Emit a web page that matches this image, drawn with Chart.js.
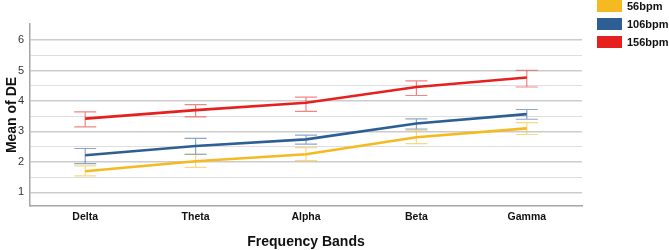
<!DOCTYPE html>
<html>
<head>
<meta charset="utf-8">
<script src="https://cdn.jsdelivr.net/npm/chart.js@4"></script>
<style>
  html, body { margin: 0; padding: 0; background: #fff; }
  #wrap { position: relative; width: 669px; height: 250px; }
</style>
</head>
<body>
<div id="wrap"><canvas id="chart1"></canvas></div>
<script>
const bands = ["Delta", "Theta", "Alpha", "Beta", "Gamma"];
const seriesNames = ["56bpm", "106bpm", "156bpm"];
const seriesColors = ["#F5B921", "#2D5F95", "#E6201E"];
const bpm56 = [1.69, 2.02, 2.25, 2.81, 3.10];
const bpm56Low = [1.54, 1.82, 2.04, 2.60, 2.90];
const bpm56High = [1.87, 2.25, 2.47, 3.04, 3.29];
const bpm106 = [2.22, 2.52, 2.74, 3.26, 3.57];
const bpm106Low = [1.94, 2.25, 2.58, 3.08, 3.40];
const bpm106High = [2.44, 2.77, 2.88, 3.41, 3.72];
const bpm156 = [3.42, 3.70, 3.94, 4.46, 4.77];
const bpm156Low = [3.15, 3.48, 3.66, 4.18, 4.46];
const bpm156High = [3.64, 3.88, 4.13, 4.66, 5.01];
const yTicks = [1, 1.5, 2, 2.5, 3, 3.5, 4, 4.5, 5, 5.5, 6];

const means = [bpm56, bpm106, bpm156];
const lows = [bpm56Low, bpm106Low, bpm156Low];
const highs = [bpm56High, bpm106High, bpm156High];

const FONT = "Arial, 'Liberation Sans', sans-serif";

function fade(hex, a) {
    const n = parseInt(hex.slice(1), 16);
    return "rgba(" + (n >> 16) + "," + ((n >> 8) & 255) + "," + (n & 255) + "," + a + ")";
}

// error bars, drawn under the lines
const errorBars = {
    id: "errorBars",
    beforeDatasetsDraw(chart) {
        const ctx = chart.ctx;
        const x = chart.scales.x, y = chart.scales.y;
        ctx.save();
        ctx.lineWidth = 1.2;
        means.forEach((m, s) => {
            ctx.strokeStyle = fade(seriesColors[s], 0.55);
            m.forEach((v, i) => {
                const px = x.getPixelForValue(i);
                const yl = y.getPixelForValue(lows[s][i]);
                const yh = y.getPixelForValue(highs[s][i]);
                ctx.beginPath();
                ctx.moveTo(px, yl); ctx.lineTo(px, yh);
                ctx.moveTo(px - 11, yl); ctx.lineTo(px + 11, yl);
                ctx.moveTo(px - 11, yh); ctx.lineTo(px + 11, yh);
                ctx.stroke();
            });
        });
        ctx.restore();
    }
};

// legend boxes at the top right
const cornerLegend = {
    id: "cornerLegend",
    afterDraw(chart) {
        const ctx = chart.ctx;
        ctx.save();
        ctx.font = "bold 11px " + FONT;
        ctx.textBaseline = "middle";
        seriesNames.forEach((name, i) => {
            const top = i * 18;
            ctx.fillStyle = seriesColors[i];
            ctx.fillRect(597, top, 25, 12);
            ctx.fillStyle = "#111";
            ctx.fillText(name, 627, top + 6.5);
        });
        ctx.restore();
    }
};

const ctx = document.getElementById("chart1").getContext("2d");
new Chart(ctx, {
    type: "line",
    data: {
        labels: bands,
        datasets: seriesNames.map((name, s) => ({
            label: name,
            data: means[s],
            borderColor: seriesColors[s],
            backgroundColor: seriesColors[s],
            borderWidth: 2.6,
            pointRadius: 0,
            tension: 0,
            fill: false
        }))
    },
    options: {
        responsive: true,
        maintainAspectRatio: false,
        animation: false,
        layout: { padding: { top: 24, right: 87, bottom: 0, left: 5 } },
        plugins: {
            legend: { display: false },
            tooltip: { enabled: false }
        },
        scales: {
            x: {
                offset: true,
                afterFit: scale => { scale.height = 44; },
                grid: { display: false, drawTicks: false },
                border: { color: "#a6a6a6", width: 1.5 },
                ticks: {
                    color: "#111",
                    padding: 6,
                    font: { family: FONT, size: 10.5, weight: "bold", lineHeight: 1 }
                },
                title: {
                    display: true,
                    text: "Frequency Bands",
                    color: "#111",
                    padding: { top: 11, bottom: 1 },
                    font: { family: FONT, size: 14, weight: "bold", lineHeight: 1 }
                }
            },
            y: {
                min: 0.55,
                max: 6.53,
                afterFit: scale => { scale.width = 25; },
                afterBuildTicks: scale => { scale.ticks = yTicks.map(v => ({ value: v })); },
                grid: {
                    drawTicks: false,
                    color: c => Number.isInteger(c.tick.value) ? "#cccccc" : "#dedede",
                    lineWidth: c => Number.isInteger(c.tick.value) ? 1.4 : 1
                },
                border: { color: "#a6a6a6", width: 1.5 },
                ticks: {
                    color: "#333",
                    padding: 6,
                    font: { family: FONT, size: 11 },
                    callback: v => Number.isInteger(v) ? v : ""
                },
                title: {
                    display: true,
                    text: "Mean of DE",
                    color: "#111",
                    padding: 0,
                    font: { family: FONT, size: 14, weight: "bold", lineHeight: 1 }
                }
            }
        }
    },
    plugins: [errorBars, cornerLegend]
});
</script>
</body>
</html>
